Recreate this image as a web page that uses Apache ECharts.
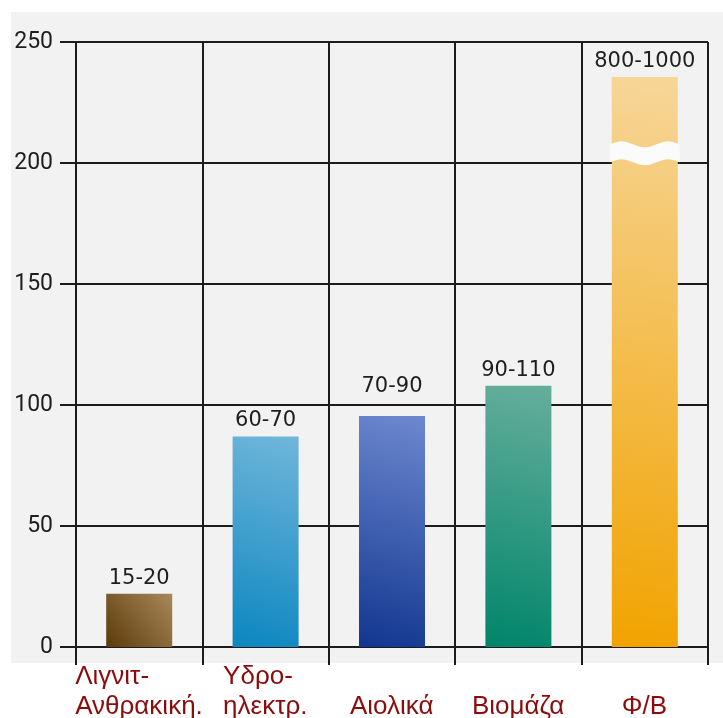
<!DOCTYPE html>
<html>
<head>
<meta charset="utf-8">
<title>Κόστος ανά τεχνολογία</title>
<script src="https://cdn.jsdelivr.net/npm/echarts@6/dist/echarts.min.js"></script>
<style>
	body { margin: 0; background: #ffffff; }
	#bg { position: absolute; left: 11px; top: 12px; width: 712px; height: 651px; background: #f2f2f2; }
	#chart { position: absolute; left: 0; top: 0; width: 723px; height: 718px; }
</style>
</head>
<body>
<div id="bg"></div>
<div id="chart"></div>
<script>
// categories (line break = two-line label)
var categories = ['Λιγνιτ-\nΑνθρακική.', 'Υδρο-\nηλεκτρ.', 'Αιολικά', 'Βιομάζα', 'Φ/Β'];
// bar heights
var values = [22, 87, 95.5, 108, 235.5];
// text printed above each bar
var rangeLabels = ['15-20', '60-70', '70-90', '90-110', '800-1000'];
// y axis ticks
var yTicks = [0, 50, 100, 150, 200, 250];
// broken bar (Φ/Β) and where the break sits
var breakBars = [[4, 204]];

// bar gradients: [dark (bottom-left), light (top-right)]
var barColors = [
	['#5c3a0a', '#a8885a'],
	['#0c86c0', '#70b6da'],
	['#12368f', '#6d88cf'],
	['#00856a', '#66ae9c'],
	['#f1a300', '#f6d699'],
];
// gap between bar top and its label (wind label sits above the 100 line)
var labelGap = [5, 5, 19, 5, 5];

var lineColor = '#1c1c1c';
var labelRed = '#8c0c0c';
var xFont = '"Liberation Sans", Arial, sans-serif';

function build_rich() {
	let ctx = document.createElement('canvas').getContext('2d');
	ctx.font = '26px ' + xFont;
	let rich = {};
	categories.forEach(function(cat, i) {
		let w = 0;
		cat.split('\n').forEach(function(line) {
			w = Math.max(w, ctx.measureText(line).width);
		});
		rich['c' + i] = {
			width: Math.ceil(w),
			align: 'left',
			fontSize: 26,
			lineHeight: 30,
			fontFamily: xFont,
			color: labelRed,
		};
	});
	return rich;
}

function x_label(value, index) {
	let lines = value.split('\n');
	if (lines.length == 1) {
		lines.unshift(' '); // single names sit on the lower line
	}
	return lines.map(function(l) {
		return '{c' + index + '|' + l + '}';
	}).join('\n');
}

function render_break(params, api) {
	let c = api.coord([api.value(0), api.value(1)]);
	let w = 70;
	let x0 = c[0] - w / 2;
	let top = [];
	let bottom = [];
	for (let k = 0; k <= 20; k++) {
		let x = x0 + (w * k) / 20;
		let s = Math.sin((k / 20) * Math.PI * 3);
		top.push([x, c[1] - 9 - 3 * s]);
		bottom.unshift([x, c[1] + 9 - 3 * s]);
	}
	return {
		type: 'polygon',
		shape: { points: top.concat(bottom) },
		style: { fill: '#fbfbfb' },
	};
}

var barData = values.map(function(v, i) {
	return {
		value: v,
		itemStyle: {
			color: new echarts.graphic.LinearGradient(0, 1, 1, 0, [
				{ offset: 0, color: barColors[i][0] },
				{ offset: 1, color: barColors[i][1] },
			]),
		},
		label: { formatter: rangeLabels[i], distance: labelGap[i] },
	};
});

var chart = echarts.init(document.getElementById('chart'), null, { renderer: 'canvas' });

var option = {
	backgroundColor: 'transparent',
	animation: false,
	grid: { left: 76, right: 15, top: 42, bottom: 71, outerBoundsMode: 'none' },
	xAxis: {
		type: 'category',
		data: categories,
		boundaryGap: true,
		axisLine: { show: true, lineStyle: { color: lineColor, width: 2 } },
		axisTick: { show: true, length: 18, alignWithLabel: false, lineStyle: { color: lineColor, width: 2 } },
		splitLine: { show: true, lineStyle: { color: lineColor, width: 2 } },
		axisLabel: {
			interval: 0,
			margin: 15,
			formatter: x_label,
			rich: build_rich(),
		},
	},
	yAxis: {
		type: 'value',
		min: yTicks[0],
		max: yTicks[yTicks.length - 1],
		interval: 50,
		axisLine: { show: true, lineStyle: { color: lineColor, width: 2 } },
		axisTick: { show: true, length: 16, lineStyle: { color: lineColor, width: 2 } },
		splitLine: { show: true, lineStyle: { color: lineColor, width: 2 } },
		axisLabel: {
			margin: 23,
			fontSize: 23,
			fontFamily: 'Roboto, sans-serif',
			color: '#1e1e1e',
		},
	},
	series: [
		{
			type: 'bar',
			data: barData,
			barWidth: 66,
			z: 3,
			label: {
				show: true,
				position: 'top',
				distance: 5,
				fontSize: 21,
				fontFamily: '"DejaVu Sans", sans-serif',
				color: '#1e1e1e',
			},
		},
		{
			type: 'custom',
			data: breakBars,
			renderItem: render_break,
			z: 4,
			silent: true,
		},
	],
};

chart.setOption(option);
</script>
</body>
</html>
